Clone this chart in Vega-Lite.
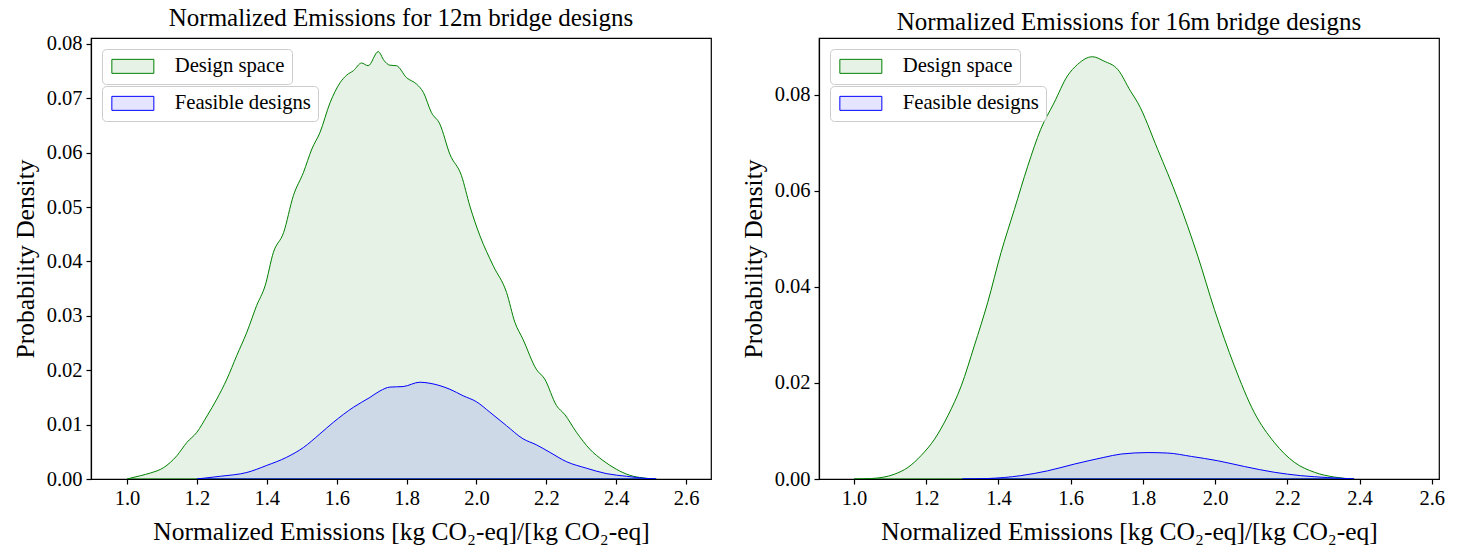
{
  "$schema": "https://vega.github.io/schema/vega-lite/v6.json",
  "padding": {"left": 12, "top": 5, "right": 5, "bottom": 2},
  "spacing": 28,
  "background": "white",
  "config": {
    "font": "Liberation Serif",
    "view": {"stroke": "black", "strokeWidth": 1.2},
    "axis": {
      "domainColor": "black", "domainWidth": 1.2, "tickColor": "black", "tickWidth": 1.2, "tickSize": 5,
      "labelColor": "black", "titleColor": "black", "labelFont": "Liberation Serif", "titleFont": "Liberation Serif",
      "labelFontSize": 20.5, "titleFontSize": 25.5, "titleFontWeight": "normal", "grid": false, "labelPadding": 4
    },
    "axisX": {"titlePadding": 11},
    "axisY": {"titlePadding": 8},
    "title": {"font": "Liberation Serif", "fontSize": 25, "fontWeight": "normal", "color": "black", "offset": 3},
    "legend": {
      "orient": "top-left", "offset": 11, "title": null,
      "symbolType": "M-3,-1H3V1H-3Z", "symbolSize": 196, "symbolStrokeWidth": 1,
      "symbolOffset": 13.5, "labelOffset": 31.5,
      "labelFont": "Liberation Serif", "labelFontSize": 20.7, "labelColor": "black",
      "strokeColor": "#cccccc", "cornerRadius": 4, "fillColor": "rgba(255,255,255,0.8)", "padding": 7,
      "layout": {"top-left": {"direction": "vertical", "margin": 2}}
    }
  },
  "resolve": {"scale": {"x": "independent", "y": "independent", "fill": "independent"}, "legend": {"fill": "independent"}},
  "datasets": {
    "d12a": [
      {"series": "Design space", "x": 1.0, "y": 0},
      {"series": "Design space", "x": 1.038, "y": 0.0006},
      {"series": "Design space", "x": 1.067, "y": 0.0011},
      {"series": "Design space", "x": 1.105, "y": 0.0021},
      {"series": "Design space", "x": 1.143, "y": 0.0043},
      {"series": "Design space", "x": 1.171, "y": 0.0067},
      {"series": "Design space", "x": 1.2, "y": 0.0086},
      {"series": "Design space", "x": 1.229, "y": 0.0116},
      {"series": "Design space", "x": 1.257, "y": 0.0147},
      {"series": "Design space", "x": 1.286, "y": 0.0184},
      {"series": "Design space", "x": 1.314, "y": 0.0227},
      {"series": "Design space", "x": 1.343, "y": 0.027},
      {"series": "Design space", "x": 1.371, "y": 0.0319},
      {"series": "Design space", "x": 1.395, "y": 0.0355},
      {"series": "Design space", "x": 1.419, "y": 0.0417},
      {"series": "Design space", "x": 1.448, "y": 0.0453},
      {"series": "Design space", "x": 1.476, "y": 0.0521},
      {"series": "Design space", "x": 1.505, "y": 0.0564},
      {"series": "Design space", "x": 1.529, "y": 0.0607},
      {"series": "Design space", "x": 1.552, "y": 0.0637},
      {"series": "Design space", "x": 1.581, "y": 0.0692},
      {"series": "Design space", "x": 1.61, "y": 0.0729},
      {"series": "Design space", "x": 1.629, "y": 0.0743},
      {"series": "Design space", "x": 1.648, "y": 0.0751},
      {"series": "Design space", "x": 1.671, "y": 0.0765},
      {"series": "Design space", "x": 1.69, "y": 0.076},
      {"series": "Design space", "x": 1.719, "y": 0.0786},
      {"series": "Design space", "x": 1.735, "y": 0.077},
      {"series": "Design space", "x": 1.752, "y": 0.0761},
      {"series": "Design space", "x": 1.771, "y": 0.076},
      {"series": "Design space", "x": 1.8, "y": 0.0738},
      {"series": "Design space", "x": 1.829, "y": 0.0726},
      {"series": "Design space", "x": 1.848, "y": 0.0711},
      {"series": "Design space", "x": 1.871, "y": 0.0674},
      {"series": "Design space", "x": 1.895, "y": 0.0653},
      {"series": "Design space", "x": 1.924, "y": 0.0597},
      {"series": "Design space", "x": 1.957, "y": 0.0558},
      {"series": "Design space", "x": 1.981, "y": 0.0502},
      {"series": "Design space", "x": 2.01, "y": 0.0447},
      {"series": "Design space", "x": 2.048, "y": 0.0392},
      {"series": "Design space", "x": 2.086, "y": 0.0343},
      {"series": "Design space", "x": 2.11, "y": 0.0288},
      {"series": "Design space", "x": 2.133, "y": 0.0257},
      {"series": "Design space", "x": 2.171, "y": 0.0202},
      {"series": "Design space", "x": 2.195, "y": 0.0184},
      {"series": "Design space", "x": 2.229, "y": 0.0135},
      {"series": "Design space", "x": 2.252, "y": 0.0119},
      {"series": "Design space", "x": 2.286, "y": 0.0086},
      {"series": "Design space", "x": 2.324, "y": 0.0055},
      {"series": "Design space", "x": 2.362, "y": 0.0034},
      {"series": "Design space", "x": 2.4, "y": 0.0018},
      {"series": "Design space", "x": 2.438, "y": 0.0007},
      {"series": "Design space", "x": 2.476, "y": 0.0002},
      {"series": "Design space", "x": 2.514, "y": 0}
    ],
    "d12b": [
      {"series": "Feasible designs", "x": 1.2, "y": 0},
      {"series": "Feasible designs", "x": 1.267, "y": 0.0005},
      {"series": "Feasible designs", "x": 1.343, "y": 0.0012},
      {"series": "Feasible designs", "x": 1.4, "y": 0.0025},
      {"series": "Feasible designs", "x": 1.457, "y": 0.004},
      {"series": "Feasible designs", "x": 1.505, "y": 0.0058},
      {"series": "Feasible designs", "x": 1.552, "y": 0.0083},
      {"series": "Feasible designs", "x": 1.59, "y": 0.0104},
      {"series": "Feasible designs", "x": 1.648, "y": 0.0132},
      {"series": "Feasible designs", "x": 1.695, "y": 0.015},
      {"series": "Feasible designs", "x": 1.724, "y": 0.0162},
      {"series": "Feasible designs", "x": 1.752, "y": 0.0169},
      {"series": "Feasible designs", "x": 1.79, "y": 0.017},
      {"series": "Feasible designs", "x": 1.838, "y": 0.0178},
      {"series": "Feasible designs", "x": 1.867, "y": 0.0176},
      {"series": "Feasible designs", "x": 1.924, "y": 0.0165},
      {"series": "Feasible designs", "x": 1.962, "y": 0.0153},
      {"series": "Feasible designs", "x": 2.0, "y": 0.0142},
      {"series": "Feasible designs", "x": 2.038, "y": 0.0123},
      {"series": "Feasible designs", "x": 2.086, "y": 0.0098},
      {"series": "Feasible designs", "x": 2.133, "y": 0.0074},
      {"series": "Feasible designs", "x": 2.171, "y": 0.0063},
      {"series": "Feasible designs", "x": 2.21, "y": 0.0049},
      {"series": "Feasible designs", "x": 2.257, "y": 0.0032},
      {"series": "Feasible designs", "x": 2.314, "y": 0.002},
      {"series": "Feasible designs", "x": 2.371, "y": 0.001},
      {"series": "Feasible designs", "x": 2.429, "y": 0.0005},
      {"series": "Feasible designs", "x": 2.486, "y": 0.0001},
      {"series": "Feasible designs", "x": 2.514, "y": 0}
    ],
    "d16a": [
      {"series": "Design space", "x": 1.0, "y": 0},
      {"series": "Design space", "x": 1.048, "y": 0.0001},
      {"series": "Design space", "x": 1.112, "y": 0.001},
      {"series": "Design space", "x": 1.149, "y": 0.0024},
      {"series": "Design space", "x": 1.186, "y": 0.0049},
      {"series": "Design space", "x": 1.223, "y": 0.0083},
      {"series": "Design space", "x": 1.26, "y": 0.0132},
      {"series": "Design space", "x": 1.297, "y": 0.0194},
      {"series": "Design space", "x": 1.333, "y": 0.0277},
      {"series": "Design space", "x": 1.37, "y": 0.0367},
      {"series": "Design space", "x": 1.407, "y": 0.0471},
      {"series": "Design space", "x": 1.444, "y": 0.0561},
      {"series": "Design space", "x": 1.481, "y": 0.0651},
      {"series": "Design space", "x": 1.517, "y": 0.0728},
      {"series": "Design space", "x": 1.554, "y": 0.0783},
      {"series": "Design space", "x": 1.591, "y": 0.0839},
      {"series": "Design space", "x": 1.619, "y": 0.0863},
      {"series": "Design space", "x": 1.66, "y": 0.0879},
      {"series": "Design space", "x": 1.692, "y": 0.087},
      {"series": "Design space", "x": 1.731, "y": 0.0852},
      {"series": "Design space", "x": 1.766, "y": 0.0807},
      {"series": "Design space", "x": 1.786, "y": 0.0783},
      {"series": "Design space", "x": 1.841, "y": 0.0686},
      {"series": "Design space", "x": 1.897, "y": 0.0582},
      {"series": "Design space", "x": 1.952, "y": 0.0464},
      {"series": "Design space", "x": 1.998, "y": 0.0353},
      {"series": "Design space", "x": 2.053, "y": 0.0236},
      {"series": "Design space", "x": 2.108, "y": 0.0139},
      {"series": "Design space", "x": 2.164, "y": 0.0076},
      {"series": "Design space", "x": 2.219, "y": 0.0035},
      {"series": "Design space", "x": 2.275, "y": 0.0014},
      {"series": "Design space", "x": 2.33, "y": 0.0004},
      {"series": "Design space", "x": 2.385, "y": 0}
    ],
    "d16b": [
      {"series": "Feasible designs", "x": 1.3, "y": 0},
      {"series": "Feasible designs", "x": 1.37, "y": 0.0001},
      {"series": "Feasible designs", "x": 1.462, "y": 0.0007},
      {"series": "Feasible designs", "x": 1.536, "y": 0.0017},
      {"series": "Feasible designs", "x": 1.61, "y": 0.0031},
      {"series": "Feasible designs", "x": 1.692, "y": 0.0045},
      {"series": "Feasible designs", "x": 1.74, "y": 0.0052},
      {"series": "Feasible designs", "x": 1.814, "y": 0.0055},
      {"series": "Feasible designs", "x": 1.869, "y": 0.0054},
      {"series": "Feasible designs", "x": 1.934, "y": 0.0047},
      {"series": "Feasible designs", "x": 2.007, "y": 0.0038},
      {"series": "Feasible designs", "x": 2.081, "y": 0.0026},
      {"series": "Feasible designs", "x": 2.164, "y": 0.0014},
      {"series": "Feasible designs", "x": 2.237, "y": 0.0007},
      {"series": "Feasible designs", "x": 2.312, "y": 0.0003},
      {"series": "Feasible designs", "x": 2.385, "y": 0}
    ]
  },
  "hconcat": [
    {
      "width": 620, "height": 441,
      "title": "Normalized Emissions for 12m bridge designs",
      "resolve": {"scale": {"fill": "independent"}, "legend": {"fill": "independent"}},
      "layer": [
        {
          "data": {"name": "d12a"},
          "mark": {"type": "area", "stroke": "#008000", "strokeWidth": 1, "opacity": 1, "interpolate": "monotone", "clip": true},
          "encoding": {
            "x": {"field": "x", "type": "quantitative", "scale": {"domain": [0.897, 2.671], "nice": false, "zero": false}, "axis": {"values": [1.0, 1.2, 1.4, 1.6, 1.8, 2.0, 2.2, 2.4, 2.6], "format": ".1f", "title": "Normalized Emissions [kg CO₂-eq]/[kg CO₂-eq]"}},
            "y": {"field": "y", "type": "quantitative", "scale": {"domain": [0, 0.0811], "nice": false}, "axis": {"values": [0, 0.01, 0.02, 0.03, 0.04, 0.05, 0.06, 0.07, 0.08], "format": ".2f", "title": "Probability Density"}},
            "fill": {"field": "series", "type": "nominal", "scale": {"range": ["rgba(0,128,0,0.1)"]}}
          }
        },
        {
          "data": {"name": "d12b"},
          "mark": {"type": "area", "stroke": "#0000ff", "strokeWidth": 1, "opacity": 1, "interpolate": "monotone", "clip": true},
          "encoding": {
            "x": {"field": "x", "type": "quantitative"},
            "y": {"field": "y", "type": "quantitative"},
            "fill": {"field": "series", "type": "nominal", "scale": {"range": ["rgba(0,0,255,0.1)"]}}
          }
        }
      ]
    },
    {
      "width": 620, "height": 441,
      "title": "Normalized Emissions for 16m bridge designs",
      "resolve": {"scale": {"fill": "independent"}, "legend": {"fill": "independent"}},
      "layer": [
        {
          "data": {"name": "d16a"},
          "mark": {"type": "area", "stroke": "#008000", "strokeWidth": 1, "opacity": 1, "interpolate": "monotone", "clip": true},
          "encoding": {
            "x": {"field": "x", "type": "quantitative", "scale": {"domain": [0.903, 2.62], "nice": false, "zero": false}, "axis": {"values": [1.0, 1.2, 1.4, 1.6, 1.8, 2.0, 2.2, 2.4, 2.6], "format": ".1f", "title": "Normalized Emissions [kg CO₂-eq]/[kg CO₂-eq]"}},
            "y": {"field": "y", "type": "quantitative", "scale": {"domain": [0, 0.0918], "nice": false}, "axis": {"values": [0, 0.02, 0.04, 0.06, 0.08], "format": ".2f", "title": "Probability Density"}},
            "fill": {"field": "series", "type": "nominal", "scale": {"range": ["rgba(0,128,0,0.1)"]}}
          }
        },
        {
          "data": {"name": "d16b"},
          "mark": {"type": "area", "stroke": "#0000ff", "strokeWidth": 1, "opacity": 1, "interpolate": "monotone", "clip": true},
          "encoding": {
            "x": {"field": "x", "type": "quantitative"},
            "y": {"field": "y", "type": "quantitative"},
            "fill": {"field": "series", "type": "nominal", "scale": {"range": ["rgba(0,0,255,0.1)"]}}
          }
        }
      ]
    }
  ]
}
